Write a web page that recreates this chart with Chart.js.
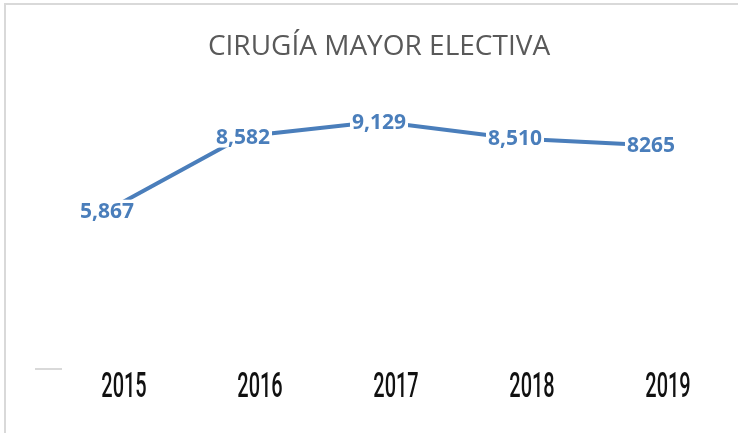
<!DOCTYPE html>
<html>
<head>
<meta charset="utf-8">
<title>Cirugía mayor electiva</title>
<script src="https://cdn.jsdelivr.net/npm/chart.js@4/dist/chart.umd.min.js"></script>
<style>
  html, body { margin: 0; padding: 0; background: #fff; }
  #wrap { position: relative; width: 738px; height: 433px; overflow: hidden; }
  #frame {
    position: absolute; left: 4px; top: 3px; right: -10px; bottom: -10px;
    border-top: 2px solid #d9d9d9; border-left: 2px solid #d9d9d9;
    pointer-events: none;
  }
  #legendMark {
    position: absolute; left: 35px; top: 368px; width: 27px; height: 2px;
    background: #d9d9d9;
  }
  canvas { position: absolute; left: 0; top: 0; }
</style>
</head>
<body>
<div id="wrap">
  <canvas id="chart" width="738" height="433"></canvas>
  <div id="frame"></div>
  <div id="legendMark"></div>
</div>
<script>
// datos
const years = ['2015', '2016', '2017', '2018', '2019'];
const cirugias = [5867, 8582, 9129, 8510, 8265];
const etiquetas = ['5,867', '8,582', '9,129', '8,510', '8265'];

const LINE_COLOR = '#4a7ebb';

// etiquetas de datos con fondo blanco sobre la línea
const dataLabels = {
    id: 'dataLabels',
    afterDatasetsDraw(chart) {
        const ctx = chart.ctx;
        const meta = chart.getDatasetMeta(0);
        ctx.save();
        ctx.font = "bold 21px 'Open Sans'";
        ctx.textAlign = 'center';
        ctx.textBaseline = 'middle';
        meta.data.forEach((pt, i) => {
            const txt = etiquetas[i];
            const w = ctx.measureText(txt).width;
            ctx.fillStyle = '#ffffff';
            ctx.fillRect(pt.x - w / 2 - 2, pt.y - 11, w + 4, 22);
            ctx.fillStyle = LINE_COLOR;
            ctx.fillText(txt, pt.x, pt.y + 1);
        });
        ctx.restore();
    }
};

// años con letra estrecha
const yearLabels = {
    id: 'yearLabels',
    afterDraw(chart) {
        const ctx = chart.ctx;
        const xs = chart.scales.x;
        ctx.save();
        ctx.font = "500 35px Roboto";
        ctx.textAlign = 'center';
        ctx.textBaseline = 'alphabetic';
        ctx.fillStyle = '#111111';
        years.forEach((y, i) => {
            const x = xs.getPixelForValue(i) + 17;
            ctx.save();
            ctx.translate(x, 397);
            ctx.scale(0.57, 1);
            ctx.fillText(y, 0, 0);
            ctx.restore();
        });
        ctx.restore();
    }
};

new Chart(document.getElementById('chart'), {
    type: 'line',
    data: {
        labels: years,
        datasets: [{
            label: '',
            data: cirugias,
            borderColor: LINE_COLOR,
            backgroundColor: LINE_COLOR,
            borderWidth: 4,
            tension: 0,
            pointRadius: 0,
            fill: false
        }]
    },
    options: {
        responsive: false,
        animation: false,
        layout: { padding: { left: 107, right: 87, top: 0, bottom: 73 } },
        plugins: {
            legend: { display: false },
            tooltip: { enabled: false },
            title: {
                display: true,
                text: 'CIRUGÍA MAYOR ELECTIVA',
                color: '#595959',
                font: { family: "'Open Sans'", size: 28, weight: 'normal', lineHeight: 1.2 },
                padding: { top: 30, bottom: 26 }
            }
        },
        scales: {
            x: {
                display: false,
                offset: false
            },
            y: {
                display: false,
                min: 400,
                max: 10300
            }
        }
    },
    plugins: [dataLabels, yearLabels]
});
</script>
</body>
</html>
